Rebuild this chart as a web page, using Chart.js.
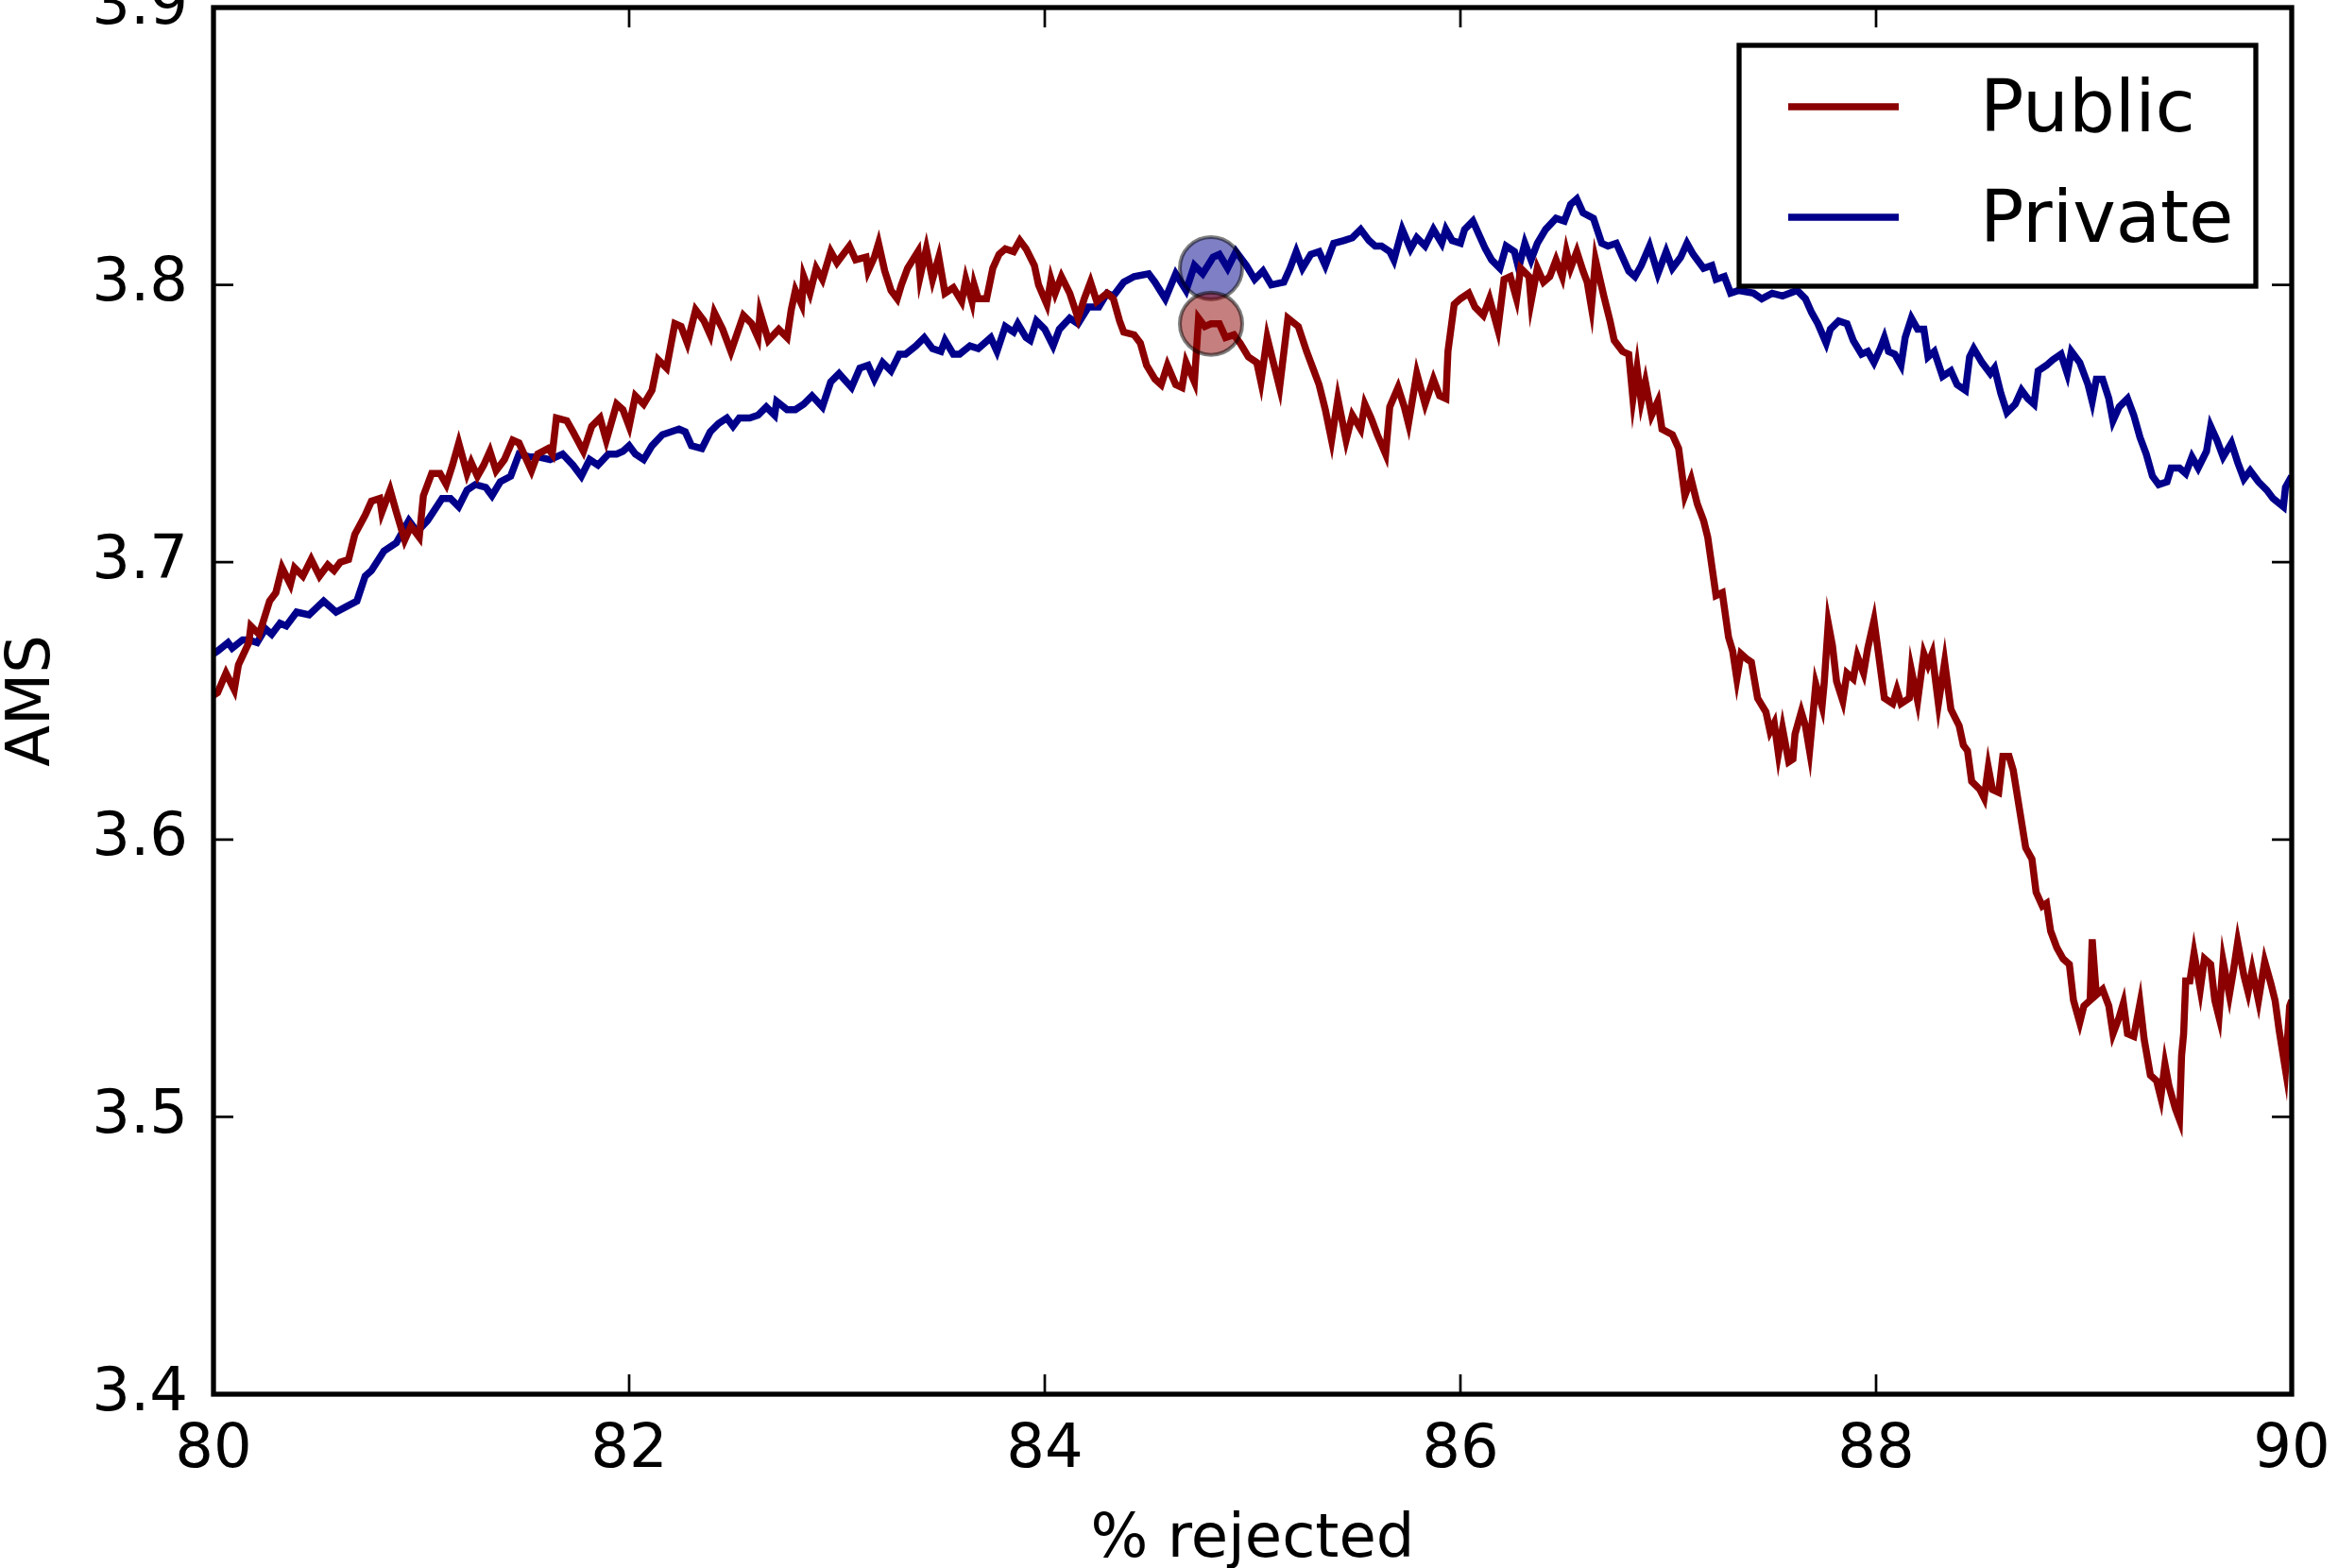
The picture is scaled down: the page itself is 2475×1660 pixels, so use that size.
<!DOCTYPE html>
<html>
<head>
<meta charset="utf-8">
<script src="https://cdn.jsdelivr.net/npm/chart.js@4.4.1/dist/chart.umd.min.js"></script>
<style>
  html, body { margin: 0; padding: 0; background: #fff; }
  canvas { display: block; }
</style>
</head>
<body>
<canvas id="myChart" width="2475" height="1660"></canvas>
<script>
// values
let publicX = [80.00, 80.02, 80.06, 80.10, 80.12, 80.17, 80.18, 80.22, 80.27, 80.30, 80.33, 80.37, 80.39, 80.43, 80.47, 80.51, 80.55, 80.58, 80.61, 80.65, 80.68, 80.73, 80.76, 80.80, 80.81, 80.85, 80.88, 80.92, 80.95, 80.99,
	81.01, 81.05, 81.09, 81.12, 81.15, 81.18, 81.22, 81.24, 81.27, 81.30, 81.33, 81.36, 81.40, 81.44, 81.47, 81.53, 81.56, 81.61, 81.63, 81.65, 81.70, 81.73, 81.78, 81.82, 81.86, 81.89, 81.94, 81.97,
	82.00, 82.03, 82.07, 82.11, 82.14, 82.18, 82.22, 82.25, 82.28, 82.32, 82.36, 82.39, 82.41, 82.45, 82.49, 82.55, 82.59, 82.62, 82.63, 82.67, 82.72, 82.76, 82.78, 82.80, 82.83, 82.84, 82.87, 82.90, 82.93, 82.97,
	83.00, 83.03, 83.06, 83.09, 83.14, 83.15, 83.18, 83.20, 83.23, 83.26, 83.29, 83.31, 83.34, 83.39, 83.40, 83.43, 83.46, 83.49, 83.52, 83.56, 83.60, 83.62, 83.65, 83.66, 83.68, 83.72, 83.75, 83.78, 83.81, 83.85, 83.88, 83.91, 83.95, 83.97,
	84.01, 84.03, 84.05, 84.08, 84.12, 84.16, 84.19, 84.22, 84.25, 84.30, 84.33, 84.36, 84.38, 84.43, 84.46, 84.49, 84.53, 84.56, 84.59, 84.63, 84.66, 84.68, 84.72, 84.74, 84.77, 84.80, 84.84, 84.87, 84.91, 84.94, 84.98,
	85.02, 85.04, 85.07, 85.10, 85.13, 85.17, 85.22, 85.26, 85.29, 85.32, 85.35, 85.38, 85.41, 85.45, 85.48, 85.52, 85.54, 85.57, 85.60, 85.64, 85.66, 85.70, 85.73, 85.75, 85.79, 85.83, 85.87, 85.90, 85.93, 85.94, 85.97,
	86.00, 86.04, 86.07, 86.11, 86.14, 86.18, 86.21, 86.24, 86.27, 86.29, 86.33, 86.34, 86.37, 86.40, 86.43, 86.46, 86.49, 86.51, 86.53, 86.56, 86.59, 86.61, 86.63, 86.65, 86.69, 86.72, 86.74, 86.78, 86.81, 86.83, 86.85, 86.87, 86.89, 86.92, 86.95, 86.97,
	87.02, 87.05, 87.08, 87.11, 87.14, 87.17, 87.19, 87.23, 87.26, 87.29, 87.31, 87.33, 87.35, 87.38, 87.40, 87.43, 87.47, 87.49, 87.51, 87.53, 87.55, 87.58, 87.60, 87.61, 87.64, 87.66, 87.68, 87.70, 87.71, 87.74, 87.75, 87.77, 87.79, 87.81, 87.84, 87.86, 87.89, 87.91, 87.94, 87.96, 87.99,
	88.01, 88.04, 88.08, 88.10, 88.12, 88.16, 88.17, 88.20, 88.23, 88.25, 88.27, 88.30, 88.33, 88.36, 88.40, 88.42, 88.44, 88.46, 88.50, 88.52, 88.54, 88.56, 88.59, 88.61, 88.64, 88.66, 88.69, 88.72, 88.75, 88.77, 88.80, 88.82, 88.84, 88.87, 88.90, 88.93, 88.95, 88.98,
	89.00, 89.03, 89.04, 89.06, 89.09, 89.12, 89.14, 89.17, 89.19, 89.21, 89.24, 89.27, 89.29, 89.32, 89.35, 89.37, 89.39, 89.41, 89.44, 89.46, 89.47, 89.48, 89.49, 89.51, 89.53, 89.56, 89.58, 89.61, 89.63, 89.65, 89.67, 89.70, 89.72, 89.74, 89.77, 89.79, 89.81, 89.84, 89.87, 89.90, 89.92, 89.94, 89.97, 89.99, 90.00];
let publicY = [3.652, 3.653, 3.660, 3.654, 3.663, 3.671, 3.677, 3.674, 3.686, 3.689, 3.698, 3.692, 3.698, 3.695, 3.701, 3.695, 3.699, 3.697, 3.700, 3.701, 3.710, 3.717, 3.722, 3.723, 3.718, 3.726, 3.718, 3.708, 3.713, 3.709,
	3.724, 3.732, 3.732, 3.728, 3.735, 3.743, 3.732, 3.736, 3.731, 3.735, 3.740, 3.733, 3.737, 3.744, 3.743, 3.733, 3.739, 3.741, 3.739, 3.752, 3.751, 3.747, 3.740, 3.749, 3.752, 3.744, 3.757, 3.755,
	3.749, 3.760, 3.757, 3.762, 3.773, 3.770, 3.786, 3.785, 3.779, 3.791, 3.787, 3.782, 3.790, 3.784, 3.776, 3.789, 3.786, 3.781, 3.790, 3.780, 3.784, 3.781, 3.791, 3.798, 3.793, 3.803, 3.797, 3.806, 3.802, 3.812,
	3.808, 3.811, 3.814, 3.809, 3.810, 3.805, 3.810, 3.815, 3.805, 3.798, 3.795, 3.800, 3.806, 3.812, 3.803, 3.813, 3.802, 3.810, 3.797, 3.799, 3.794, 3.802, 3.794, 3.800, 3.795, 3.795, 3.806, 3.811, 3.813, 3.812, 3.816, 3.813, 3.807, 3.800,
	3.793, 3.802, 3.797, 3.803, 3.797, 3.788, 3.795, 3.801, 3.794, 3.797, 3.795, 3.787, 3.783, 3.782, 3.779, 3.771, 3.766, 3.764, 3.771, 3.764, 3.763, 3.772, 3.765, 3.788, 3.785, 3.786, 3.786, 3.781, 3.782, 3.779, 3.774,
	3.772, 3.765, 3.781, 3.772, 3.763, 3.788, 3.785, 3.776, 3.770, 3.764, 3.755, 3.744, 3.759, 3.744, 3.753, 3.748, 3.757, 3.752, 3.746, 3.739, 3.756, 3.763, 3.756, 3.750, 3.768, 3.757, 3.766, 3.760, 3.759, 3.776, 3.793,
	3.795, 3.797, 3.792, 3.789, 3.795, 3.784, 3.802, 3.803, 3.795, 3.806, 3.803, 3.794, 3.806, 3.801, 3.803, 3.809, 3.803, 3.812, 3.806, 3.812, 3.805, 3.801, 3.792, 3.809, 3.796, 3.787, 3.780, 3.776, 3.775, 3.759, 3.770, 3.758, 3.765, 3.753, 3.758, 3.748,
	3.746, 3.741, 3.724, 3.730, 3.721, 3.715, 3.709, 3.688, 3.689, 3.673, 3.668, 3.658, 3.667, 3.665, 3.664, 3.651, 3.646, 3.639, 3.642, 3.631, 3.640, 3.628, 3.629, 3.638, 3.646, 3.641, 3.632, 3.648, 3.656, 3.648, 3.656, 3.678, 3.670, 3.657, 3.650, 3.660, 3.658, 3.666, 3.660, 3.669, 3.679,
	3.668, 3.651, 3.649, 3.654, 3.649, 3.651, 3.661, 3.650, 3.667, 3.663, 3.667, 3.649, 3.664, 3.647, 3.641, 3.634, 3.632, 3.621, 3.618, 3.615, 3.626, 3.618, 3.617, 3.630, 3.630, 3.625, 3.611, 3.597, 3.593, 3.581, 3.576, 3.577, 3.567, 3.561, 3.557, 3.555, 3.542, 3.534,
	3.540, 3.542, 3.564, 3.544, 3.546, 3.540, 3.530, 3.536, 3.541, 3.530, 3.529, 3.541, 3.528, 3.515, 3.513, 3.507, 3.519, 3.511, 3.503, 3.499, 3.522, 3.530, 3.549, 3.549, 3.559, 3.546, 3.557, 3.555, 3.542, 3.536, 3.556, 3.544, 3.553, 3.563, 3.551, 3.545, 3.553, 3.542, 3.556, 3.548, 3.542, 3.531, 3.517, 3.540, 3.542];

let privateX = [80.00, 80.02, 80.07, 80.09, 80.14, 80.17, 80.21, 80.25, 80.28, 80.32, 80.35, 80.40, 80.46, 80.53, 80.59, 80.64, 80.69, 80.73, 80.76, 80.82, 80.88, 80.94, 80.98,
	81.03, 81.10, 81.14, 81.18, 81.22, 81.26, 81.31, 81.34, 81.38, 81.43, 81.47, 81.52, 81.56, 81.62, 81.68, 81.73, 81.77, 81.81, 81.85, 81.90, 81.94, 81.97,
	82.00, 82.03, 82.07, 82.11, 82.16, 82.20, 82.24, 82.27, 82.30, 82.35, 82.39, 82.43, 82.47, 82.50, 82.53, 82.58, 82.62, 82.66, 82.70, 82.71, 82.76, 82.80, 82.84, 82.88, 82.93, 82.97,
	83.01, 83.07, 83.11, 83.15, 83.18, 83.22, 83.26, 83.30, 83.33, 83.38, 83.42, 83.46, 83.50, 83.52, 83.56, 83.59, 83.64, 83.68, 83.74, 83.77, 83.81, 83.85, 83.87, 83.91, 83.93, 83.96,
	84.00, 84.04, 84.07, 84.12, 84.16, 84.21, 84.26, 84.30, 84.33, 84.38, 84.43, 84.50, 84.53, 84.58, 84.63, 84.68, 84.72, 84.76, 84.81, 84.84, 84.88, 84.92, 84.97,
	85.01, 85.05, 85.09, 85.15, 85.18, 85.21, 85.24, 85.28, 85.32, 85.35, 85.39, 85.44, 85.48, 85.52, 85.56, 85.59, 85.62, 85.66, 85.68, 85.72, 85.76, 85.79, 85.83, 85.87, 85.91, 85.93, 85.96,
	86.00, 86.02, 86.06, 86.09, 86.12, 86.15, 86.19, 86.22, 86.26, 86.28, 86.31, 86.34, 86.37, 86.41, 86.46, 86.50, 86.53, 86.56, 86.59, 86.64, 86.68, 86.71, 86.75, 86.78, 86.81, 86.84, 86.87, 86.91, 86.95, 86.99,
	87.02, 87.06, 87.09, 87.12, 87.17, 87.21, 87.23, 87.27, 87.30, 87.34, 87.41, 87.45, 87.50, 87.55, 87.62, 87.66, 87.69, 87.72, 87.76, 87.78, 87.82, 87.86, 87.89, 87.93, 87.96, 87.99,
	88.02, 88.04, 88.06, 88.09, 88.12, 88.14, 88.17, 88.20, 88.23, 88.25, 88.28, 88.32, 88.36, 88.39, 88.43, 88.45, 88.47, 88.51, 88.55, 88.57, 88.60, 88.63, 88.67, 88.70, 88.73, 88.76, 88.78, 88.82, 88.85, 88.89, 88.92, 88.94, 88.98,
	89.02, 89.04, 89.06, 89.09, 89.12, 89.14, 89.17, 89.21, 89.24, 89.27, 89.30, 89.33, 89.36, 89.40, 89.42, 89.46, 89.49, 89.52, 89.55, 89.59, 89.61, 89.64, 89.67, 89.71, 89.74, 89.77, 89.80, 89.84, 89.88, 89.91, 89.96, 89.97, 90.00];
let privateY = [3.667, 3.668, 3.671, 3.669, 3.672, 3.672, 3.671, 3.676, 3.674, 3.678, 3.677, 3.682, 3.681, 3.686, 3.682, 3.684, 3.686, 3.695, 3.697, 3.704, 3.707, 3.715, 3.711,
	3.715, 3.723, 3.723, 3.720, 3.726, 3.728, 3.727, 3.724, 3.729, 3.731, 3.739, 3.738, 3.738, 3.737, 3.739, 3.735, 3.731, 3.737, 3.735, 3.739, 3.739, 3.740,
	3.742, 3.739, 3.737, 3.742, 3.746, 3.747, 3.748, 3.747, 3.742, 3.741, 3.747, 3.750, 3.752, 3.749, 3.752, 3.752, 3.753, 3.756, 3.753, 3.758, 3.755, 3.755, 3.757, 3.760, 3.756, 3.765,
	3.768, 3.763, 3.770, 3.771, 3.766, 3.772, 3.769, 3.775, 3.775, 3.778, 3.781, 3.777, 3.776, 3.780, 3.775, 3.775, 3.778, 3.777, 3.781, 3.776, 3.785, 3.783, 3.786, 3.781, 3.780, 3.787,
	3.784, 3.778, 3.784, 3.788, 3.786, 3.792, 3.792, 3.797, 3.796, 3.801, 3.803, 3.804, 3.801, 3.795, 3.804, 3.798, 3.807, 3.804, 3.810, 3.811, 3.806, 3.812, 3.807,
	3.802, 3.805, 3.800, 3.801, 3.806, 3.812, 3.806, 3.811, 3.812, 3.807, 3.815, 3.816, 3.817, 3.820, 3.816, 3.814, 3.814, 3.812, 3.809, 3.820, 3.813, 3.817, 3.814, 3.820, 3.815, 3.820, 3.816,
	3.815, 3.820, 3.823, 3.818, 3.813, 3.809, 3.806, 3.814, 3.812, 3.806, 3.815, 3.809, 3.815, 3.820, 3.824, 3.823, 3.829, 3.831, 3.826, 3.824, 3.815, 3.814, 3.815, 3.810, 3.805, 3.803, 3.807, 3.814, 3.804, 3.812,
	3.806, 3.810, 3.815, 3.811, 3.806, 3.807, 3.802, 3.803, 3.797, 3.798, 3.797, 3.795, 3.797, 3.796, 3.798, 3.795, 3.790, 3.786, 3.779, 3.784, 3.787, 3.786, 3.780, 3.775, 3.776, 3.772,
	3.777, 3.781, 3.776, 3.775, 3.771, 3.781, 3.788, 3.784, 3.784, 3.774, 3.776, 3.767, 3.769, 3.764, 3.762, 3.774, 3.777, 3.772, 3.768, 3.770, 3.761, 3.754, 3.757, 3.762, 3.759, 3.757, 3.769, 3.771, 3.773, 3.775, 3.768, 3.776, 3.772,
	3.764, 3.758, 3.766, 3.766, 3.759, 3.751, 3.756, 3.759, 3.753, 3.745, 3.739, 3.731, 3.728, 3.729, 3.734, 3.734, 3.732, 3.738, 3.734, 3.740, 3.749, 3.744, 3.738, 3.743, 3.736, 3.730, 3.733, 3.729, 3.726, 3.723, 3.720, 3.727, 3.731];

// the two highlighted points
let markerX = [84.80, 84.80];
let markerY = [3.806, 3.786];

let xTicks = [80, 82, 84, 86, 88, 90];
let yTicks = [3.4, 3.5, 3.6, 3.7, 3.8, 3.9];

function toPoints(xs, ys) {
	return xs.map(function(x, i) { return { x: x, y: ys[i] }; });
}

// matplotlib style box: frame plus inward ticks on all four sides
const framePlugin = {
	id: 'frame',
	afterDatasetsDraw(chart) {
		const ctx = chart.ctx;
		const a = chart.chartArea;
		const sx = chart.scales.x, sy = chart.scales.y;
		ctx.save();
		ctx.strokeStyle = '#000';
		ctx.lineWidth = 2.7;
		ctx.beginPath();
		xTicks.forEach(function(v) {
			const px = sx.getPixelForValue(v);
			ctx.moveTo(px, a.bottom); ctx.lineTo(px, a.bottom - 21);
			ctx.moveTo(px, a.top); ctx.lineTo(px, a.top + 21);
		});
		yTicks.forEach(function(v) {
			const py = sy.getPixelForValue(v);
			ctx.moveTo(a.left, py); ctx.lineTo(a.left + 21, py);
			ctx.moveTo(a.right, py); ctx.lineTo(a.right - 21, py);
		});
		ctx.stroke();
		ctx.lineWidth = 5.3;
		ctx.strokeRect(a.left, a.top, a.right - a.left, a.bottom - a.top);
		ctx.restore();
	}
};

// boxed legend in the upper right corner
const legendPlugin = {
	id: 'boxLegend',
	afterDraw(chart) {
		const ctx = chart.ctx;
		const a = chart.chartArea;
		const w = 547, h = 255;
		const bx = a.right - 38 - w, by = a.top + 40;
		ctx.save();
		ctx.fillStyle = '#fff';
		ctx.fillRect(bx, by, w, h);
		ctx.strokeStyle = '#000';
		ctx.lineWidth = 5.3;
		ctx.strokeRect(bx, by, w, h);
		const items = chart.data.datasets.filter(function(d) { return d.label !== 'marker'; });
		ctx.font = '77px "DejaVu Sans"';
		ctx.textBaseline = 'middle';
		ctx.textAlign = 'left';
		items.forEach(function(d, i) {
			const ly = by + 65 + i * 117;
			ctx.strokeStyle = d.borderColor;
			ctx.lineWidth = d.borderWidth;
			ctx.beginPath();
			ctx.moveTo(bx + 52, ly);
			ctx.lineTo(bx + 169, ly);
			ctx.stroke();
			ctx.fillStyle = '#000';
			ctx.fillText(d.label, bx + 255, ly + 6);
		});
		ctx.restore();
	}
};

Chart.defaults.font.family = '"DejaVu Sans"';
Chart.defaults.color = '#000';

const config = {
	type: 'line',
	data: {
		datasets: [{
			label: 'marker',
			data: toPoints(markerX, markerY),
			showLine: false,
			pointRadius: 33,
			pointHoverRadius: 33,
			pointBackgroundColor: ['rgba(0,0,139,0.5)', 'rgba(139,0,0,0.5)'],
			pointBorderColor: 'rgba(0,0,0,0.5)',
			pointBorderWidth: 4
		}, {
			label: 'Public',
			data: toPoints(publicX, publicY),
			borderColor: '#8b0000',
			borderWidth: 7.5,
			pointRadius: 0,
			tension: 0
		}, {
			label: 'Private',
			data: toPoints(privateX, privateY),
			borderColor: '#00008b',
			borderWidth: 7.5,
			pointRadius: 0,
			tension: 0
		}]
	},
	options: {
		responsive: false,
		animation: false,
		devicePixelRatio: 1,
		layout: { autoPadding: false, padding: { top: 8, right: 49, left: 0, bottom: 0 } },
		plugins: {
			legend: { display: false },
			tooltip: { enabled: false }
		},
		scales: {
			x: {
				type: 'linear',
				min: 80,
				max: 90,
				grid: { display: false },
				border: { display: false },
				afterBuildTicks(scale) { scale.ticks = xTicks.map(function(v) { return { value: v }; }); },
				ticks: {
					font: { size: 64 },
					padding: 14,
					maxRotation: 0,
					autoSkip: false,
					callback: function(v) { return String(v); }
				},
				title: {
					display: true,
					text: '% rejected',
					font: { size: 64, lineHeight: 0.9 },
					padding: { top: 0, bottom: 0 }
				},
				afterFit(scale) {
					scale.height = 184;
					scale.paddingLeft = 0;
					scale.paddingRight = 0;
				}
			},
			y: {
				type: 'linear',
				min: 3.4,
				max: 3.9,
				grid: { display: false },
				border: { display: false },
				afterBuildTicks(scale) { scale.ticks = yTicks.map(function(v) { return { value: v }; }); },
				ticks: {
					font: { size: 64 },
					padding: 19,
					autoSkip: false,
					callback: function(v) { return v.toFixed(1); }
				},
				title: {
					display: true,
					text: 'AMS',
					font: { size: 64, lineHeight: 1.1 },
					padding: { top: 0, bottom: 0 }
				},
				afterFit(scale) {
					scale.width = 226;
					scale.paddingTop = 0;
					scale.paddingBottom = 0;
				}
			}
		}
	},
	plugins: [framePlugin, legendPlugin]
};

let chart = new Chart('myChart', config);
</script>
</body>
</html>
